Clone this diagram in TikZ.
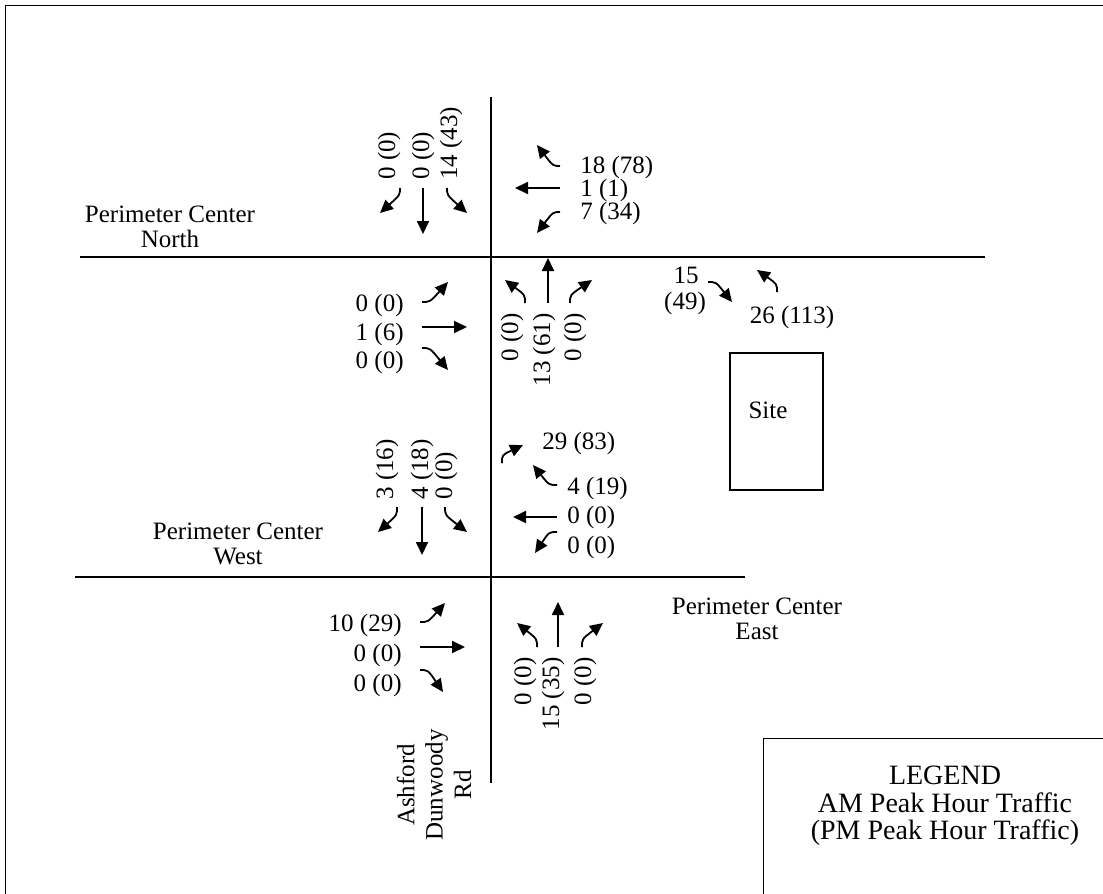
\documentclass[tikz,border=0pt]{standalone}
\usepackage{fontspec}
\setmainfont{Liberation Serif}
\usepackage{tikz}
\usetikzlibrary{arrows.meta}

\begin{document}
\begin{tikzpicture}[x=0.5pt,y=-0.5pt,
    road/.style={line width=1pt},
    mv/.style={line width=0.9pt,-{Triangle[length=6.5pt,width=6pt]}},
    cnt/.style={inner sep=0pt,font=\fontsize{12.5}{12.5}\selectfont},
    vcnt/.style={cnt,rotate=90},
    lbl/.style={inner sep=0pt,align=center,font=\fontsize{12.5}{12.5}\selectfont}]
  \useasboundingbox (0,0) rectangle (1103,894);
  \draw[line width=0.5pt] (5,894) -- (5,5) -- (1103,5);
  \draw[line width=0.5pt] (763,894) -- (763,738) -- (1103,738);
  \draw[road] (491,97) -- (491,783);
  \draw[road] (80,257) -- (985,257);
  \draw[road] (75,577) -- (745,577);
  \draw[line width=0.7pt] (730,353) rectangle (823,490);
  \node[lbl] (site) at (768,410) {Site};
  \node[lbl] (pcnorth) at (170,227) {Perimeter Center\\North};
  \node[lbl] (pcwest) at (238,544) {Perimeter Center\\West};
  \node[lbl] (pceast) at (757,619) {Perimeter Center\\East};
  \node[lbl,rotate=90,font=\fontsize{12.5}{14.2}\selectfont] (adrd) at (434,785) {Ashford\\Dunwoody\\Rd};
  \node[inner sep=0pt,align=center,font=\fontsize{14}{13.8}\selectfont] (legend) at (945,806)
    {LEGEND\\AM Peak Hour Traffic\\(PM Peak Hour Traffic)};

  \node[vcnt,anchor=west] (nsr) at (389,180) {0 (0)};
  \node[vcnt,anchor=west] (nst) at (423,180) {0 (0)};
  \node[vcnt,anchor=west] (nsl) at (451,180) {14 (43)};
  \draw[mv] (400,188) .. controls (400,195) .. (380,213);
  \draw[mv] (423,188) -- (423,234);
  \draw[mv] (447,188) .. controls (447,195) .. (467,213);

  \node[cnt,anchor=west] (nwr) at (580,167) {18 (78)};
  \node[cnt,anchor=west] (nwt) at (580,190) {1 (1)};
  \node[cnt,anchor=west] (nwl) at (580,213) {7 (34)};
  \draw[mv] (560,166) .. controls (553,166) .. (537,145);
  \draw[mv] (560,188) -- (515,188);
  \draw[mv] (560,212) .. controls (553,212) .. (537,233);

  \node[cnt,anchor=east] (nel) at (404,305) {0 (0)};
  \node[cnt,anchor=east] (net) at (404,334) {1 (6)};
  \node[cnt,anchor=east] (ner) at (404,362) {0 (0)};
  \draw[mv] (422,302) .. controls (430,302) .. (448,282);
  \draw[mv] (422,327) -- (467,327);
  \draw[mv] (422,348) .. controls (430,348) .. (448,370);

  \node[vcnt,anchor=east] (nnl) at (512,313) {0 (0)};
  \node[vcnt,anchor=east] (nnt) at (544,313) {13 (61)};
  \node[vcnt,anchor=east] (nnr) at (575,313) {0 (0)};
  \draw[mv] (525,303) .. controls (525,295) .. (505,280);
  \draw[mv] (548,303) -- (548,258);
  \draw[mv] (570,303) .. controls (570,295) .. (592,280);

  \node[cnt] (drin) at (686,275) {15};
  \node[cnt] (drinpm) at (685,303) {(49)};
  \node[cnt] (drout) at (792,317) {26 (113)};
  \draw[mv] (708,282) .. controls (716,282) .. (732,302);
  \draw[mv] (777,292) .. controls (777,284) .. (757,270);

  \node[vcnt,anchor=west] (ssr) at (387,500) {3 (16)};
  \node[vcnt,anchor=west] (sst) at (422,500) {4 (18)};
  \node[vcnt,anchor=west] (ssl) at (446,500) {0 (0)};
  \draw[mv] (397,507) .. controls (397,515) .. (378,532);
  \draw[mv] (422,507) -- (422,555);
  \draw[mv] (445,507) .. controls (445,515) .. (467,532);

  \node[cnt,anchor=west] (snr) at (542,443) {29 (83)};
  \node[cnt,anchor=west] (swr) at (567,488) {4 (19)};
  \node[cnt,anchor=west] (swt) at (567,517) {0 (0)};
  \node[cnt,anchor=west] (swl) at (567,547) {0 (0)};
  \draw[mv] (502,463) .. controls (502,455) .. (523,445);
  \draw[mv] (557,485) .. controls (549,485) .. (533,465);
  \draw[mv] (557,517) -- (513,517);
  \draw[mv] (557,532) .. controls (549,532) .. (535,553);

  \node[cnt,anchor=east] (sel) at (402,625) {10 (29)};
  \node[cnt,anchor=east] (set) at (402,655) {0 (0)};
  \node[cnt,anchor=east] (ser) at (402,685) {0 (0)};
  \draw[mv] (420,622) .. controls (428,622) .. (445,603);
  \draw[mv] (420,647) -- (465,647);
  \draw[mv] (420,670) .. controls (428,670) .. (443,692);

  \node[vcnt,anchor=east] (snl) at (525,657) {0 (0)};
  \node[vcnt,anchor=east] (snt) at (553,657) {15 (35)};
  \node[vcnt,anchor=east] (snrr) at (585,657) {0 (0)};
  \draw[mv] (537,647) .. controls (537,639) .. (517,623);
  \draw[mv] (558,647) -- (558,602);
  \draw[mv] (582,647) .. controls (582,639) .. (603,623);
\end{tikzpicture}
\end{document}
